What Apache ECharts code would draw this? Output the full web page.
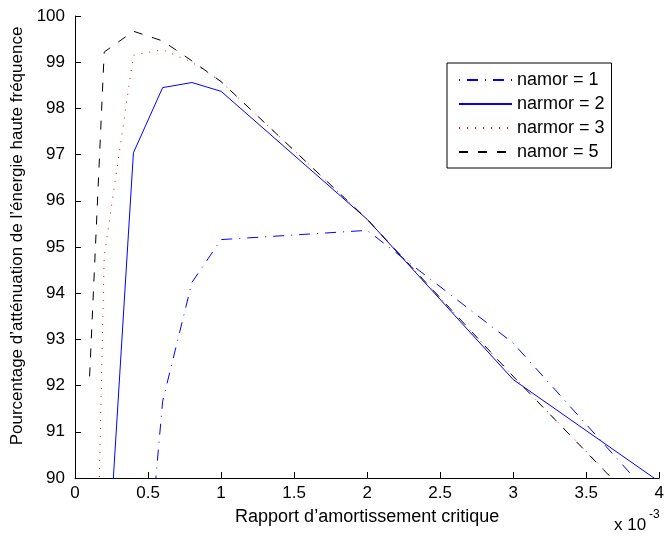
<!DOCTYPE html>
<html>
<head>
<meta charset="utf-8">
<script src="https://cdn.jsdelivr.net/npm/echarts@6/dist/echarts.min.js"></script>
<style>html,body{margin:0;padding:0;background:#fff}#c{width:667px;height:537px}</style>
</head>
<body>
<div id="c"></div>
<script>
// x values in units of 1e-3
const xVals = [0.1, 0.2, 0.4, 0.6, 0.8, 1, 2, 3, 4];
const namor1  = [70.0, 77.0, 84.5, 91.66, 94.23, 95.16, 95.36, 92.92, 89.40];
const narmor2 = [80.0, 86.8, 97.04, 98.45, 98.56, 98.37, 95.60, 92.13, 89.92];
const narmor3 = [80.5, 94.8, 99.15, 99.27, 99.00, 98.58, 95.60, 92.20, 88.95];
const namor5  = [92.2, 99.22, 99.67, 99.46, 99.03, 98.58, 95.60, 92.20, 88.93];
const seriesNames = ['namor = 1', 'narmor = 2', 'narmor = 3', 'namor = 5'];
const xTicks = [0, 0.5, 1, 1.5, 2, 2.5, 3, 3.5, 4];
const yTicks = [90, 91, 92, 93, 94, 95, 96, 97, 98, 99, 100];

const FONT = 'Liberation Sans, Arial, Helvetica, sans-serif';
const pairs = arr => xVals.map((x, i) => [x, arr[i]]);

const styles = [
  {color: '#0000ff', type: [1, 7, 11, 7]},
  {color: '#0000ff', type: 'solid'},
  {color: '#ff0000', type: [1, 7]},
  {color: '#000000', type: [9, 10]}
];
const data = [namor1, narmor2, narmor3, namor5];

const chart = echarts.init(document.getElementById('c'), null, {renderer: 'canvas'});
chart.setOption({
  animation: false,
  backgroundColor: '#fff',
  grid: {left: 75, right: 6, top: 16, bottom: 59, containLabel: false},
  xAxis: {
    type: 'value', min: xTicks[0], max: xTicks[xTicks.length - 1], interval: 0.5,
    axisLine: {lineStyle: {color: '#000', width: 1}},
    axisTick: {inside: true, length: 6, lineStyle: {color: '#000'}},
    splitLine: {show: false},
    axisLabel: {color: '#000', fontSize: 17, fontFamily: FONT, margin: 7,
      formatter: v => String(v)},
    name: 'Rapport d\u2019amortissement critique',
    nameLocation: 'middle', nameGap: 30,
    nameTextStyle: {color: '#000', fontSize: 18, fontFamily: FONT}
  },
  yAxis: {
    type: 'value', min: yTicks[0], max: yTicks[yTicks.length - 1], interval: 1,
    axisLine: {show: true, lineStyle: {color: '#000', width: 1}},
    axisTick: {show: true, inside: true, length: 6, lineStyle: {color: '#000'}},
    splitLine: {show: false},
    axisLabel: {color: '#000', fontSize: 17, fontFamily: FONT, margin: 10},
    name: 'Pourcentage d\u2019att\u00e9nuation de l\u2019\u00e9nergie haute fr\u00e9quence',
    nameLocation: 'middle', nameGap: 41, nameRotate: 90,
    nameTextStyle: {color: '#000', fontSize: 17, fontFamily: FONT, padding: [0, 0, 0, 22]}
  },
  legend: {
    orient: 'vertical', left: 447, top: 63,
    data: seriesNames,
    itemWidth: 53, itemHeight: 14, itemGap: 6,
    padding: [8, 7, 7, 11],
    borderColor: '#000', borderWidth: 1, backgroundColor: '#fff',
    itemStyle: {opacity: 0},
    textStyle: {color: '#000', fontSize: 18, fontFamily: FONT}
  },
  graphic: [
    {type: 'text', x: 614, y: 525,
     style: {text: 'x 10', fontSize: 17, fontFamily: FONT, fill: '#000', verticalAlign: 'middle'}},
    {type: 'text', x: 649, y: 515,
     style: {text: '-3', fontSize: 12, fontFamily: FONT, fill: '#000', verticalAlign: 'middle'}}
  ],
  series: data.map((arr, i) => ({
    name: seriesNames[i], type: 'line', data: pairs(arr),
    symbol: 'none', showSymbol: false, clip: true,
    lineStyle: {color: styles[i].color, width: 1, type: styles[i].type},
    itemStyle: {color: styles[i].color}
  }))
});
</script>
</body>
</html>
